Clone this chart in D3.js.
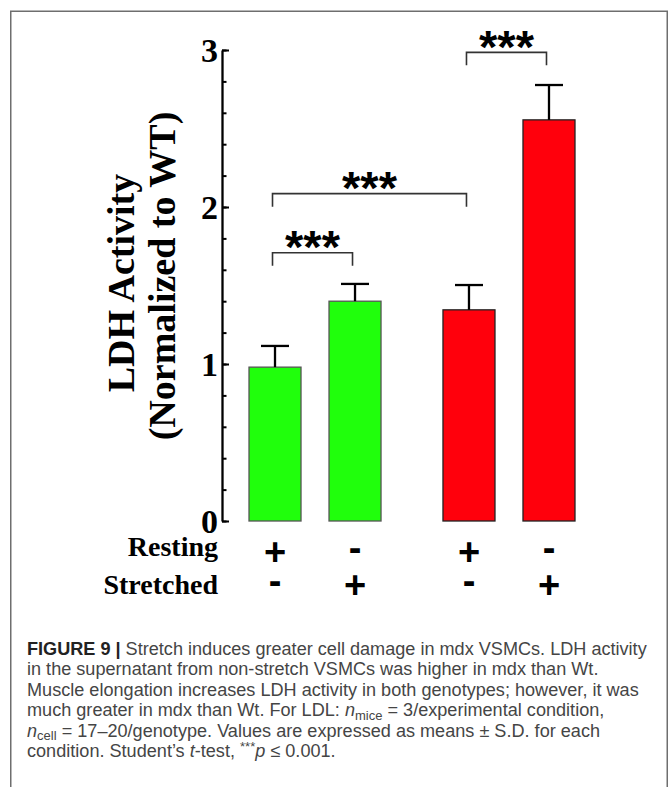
<!DOCTYPE html>
<html><head><meta charset="utf-8">
<script src="https://cdn.jsdelivr.net/npm/d3@7"></script>
<style>body{margin:0;background:#fff}</style>
</head><body>
<svg id="c" width="670" height="787" xmlns="http://www.w3.org/2000/svg"></svg>
<script>
// ---------- data ----------
const genotypes = ["Wt", "mdx"];
const conditions = ["Resting", "Stretched"];
const wtMeans = [0.98, 1.40];
const wtSD = [0.135, 0.11];
const mdxMeans = [1.345, 2.555];
const mdxSD = [0.158, 0.222];
const restingSigns = ["+", "-", "+", "-"];
const stretchedSigns = ["-", "+", "-", "+"];
const yTicks = [0, 1, 2, 3];
const yMinorTicks = d3.range(0, 3.0001, 0.2);
const yTitle = ["LDH Activity", "(Normalized to WT)"];
// significance brackets: from bar index, to bar index, level (data units)
const brackets = [
  {a: 0, b: 1, level: 1.709, label: "***"},
  {a: 0, b: 2, level: 2.085, label: "***"},
  {a: 2, b: 3, level: 2.985, label: "***"}
];
const captionLines = [
  [{t: "FIGURE 9 |", b: 1}, {t: " Stretch induces greater cell damage in mdx VSMCs. LDH activity"}],
  [{t: "in the supernatant from non-stretch VSMCs was higher in mdx than Wt."}],
  [{t: "Muscle elongation increases LDH activity in both genotypes; however, it was"}],
  [{t: "much greater in mdx than Wt. For LDL: "}, {t: "n", i: 1}, {t: "mice", sub: 1}, {t: " = 3/experimental condition,"}],
  [{t: "n", i: 1}, {t: "cell", sub: 1}, {t: " = 17–20/genotype. Values are expressed as means ± S.D. for each"}],
  [{t: "condition. Student’s "}, {t: "t", i: 1}, {t: "-test, "}, {t: "***", sup: 1}, {t: "p", i: 1}, {t: " ≤ 0.001."}]
];

// ---------- layout ----------
const svg = d3.select("#c");
const serif = "'Liberation Serif','Times New Roman',Times,serif";
const sans = "'Liberation Sans',Arial,Helvetica,sans-serif";

svg.append("rect").attr("x", 10.75).attr("y", 11.25).attr("width", 656.5).attr("height", 820)
  .attr("fill", "none").attr("stroke", "#6e6e6e").attr("stroke-width", 1.5);

const y = d3.scaleLinear().domain([0, 3]).range([521, 50]);
const xGroup = d3.scaleBand().domain(genotypes).range([235, 589]).paddingInner(0.175).paddingOuter(0);
const xCond = d3.scaleBand().domain(conditions).range([0, xGroup.bandwidth()]).paddingInner(0.35).paddingOuter(0.175);
const colors = d3.scaleOrdinal().domain(genotypes).range(["#20ff0c", "#ff000c"]);
const strokes = d3.scaleOrdinal().domain(genotypes).range(["#555", "#222"]);

const bars = genotypes.flatMap(g => conditions.map((c, ci) => ({
  g, c,
  mean: g === "Wt" ? wtMeans[ci] : mdxMeans[ci],
  sd: g === "Wt" ? wtSD[ci] : mdxSD[ci]
})));
bars.forEach(d => { d.x = xGroup(d.g) + xCond(d.c); d.cx = d.x + xCond.bandwidth() / 2; });

// bars
svg.append("g").selectAll("rect").data(bars).join("rect")
  .attr("x", d => d.x).attr("y", d => y(d.mean))
  .attr("width", xCond.bandwidth()).attr("height", d => y(0) - y(d.mean))
  .attr("fill", d => colors(d.g)).attr("stroke", d => strokes(d.g)).attr("stroke-width", 1.3);

// error bars
const eb = svg.append("g").attr("stroke", "#000").attr("stroke-width", 2.3);
eb.selectAll("line.v").data(bars).join("line").attr("class", "v")
  .attr("x1", d => d.cx).attr("x2", d => d.cx)
  .attr("y1", d => y(d.mean)).attr("y2", d => y(d.mean + d.sd));
eb.selectAll("line.h").data(bars).join("line").attr("class", "h")
  .attr("x1", d => d.cx - 14).attr("x2", d => d.cx + 14)
  .attr("y1", d => y(d.mean + d.sd)).attr("y2", d => y(d.mean + d.sd));

// y axis
const axG = svg.append("g").attr("transform", "translate(222,0)");
axG.call(d3.axisLeft(y).tickValues(yMinorTicks).tickSizeInner(-4.5).tickSizeOuter(0).tickFormat(""));
axG.select(".domain").remove();
const axM = svg.append("g").attr("transform", "translate(222,0)");
axM.call(d3.axisLeft(y).tickValues(yTicks).tickSizeInner(-7).tickSizeOuter(0).tickPadding(4).tickFormat(d3.format("d")));
svg.selectAll(".tick line").attr("stroke", "#000").attr("stroke-width", 2);
axM.select(".domain").attr("stroke", "#000").attr("stroke-width", 2.3);
axM.selectAll(".tick text").attr("font-family", serif).attr("font-weight", "bold")
  .attr("font-size", 34).attr("fill", "#000").attr("dy", "0.33em");

// y title
[[134, 283], [175, 276]].forEach((p, i) => {
  svg.append("text").attr("transform", `translate(${p[0]},${p[1]}) rotate(-90)`)
    .attr("font-family", serif).attr("font-weight", "bold").attr("font-size", 38)
    .attr("text-anchor", "middle").attr("fill", "#000").text(yTitle[i]);
});

// significance brackets
const bg = svg.append("g");
brackets.forEach(br => {
  const x1 = bars[br.a].cx - 2.5, x2 = bars[br.b].cx - 2.5, yy = y(br.level);
  bg.append("path").attr("d", `M${x1},${yy + 13}V${yy}H${x2}V${yy + 13}`)
    .attr("fill", "none").attr("stroke", "#333").attr("stroke-width", 1.6);
  bg.append("text").attr("x", (x1 + x2) / 2).attr("y", yy - 17).attr("dy", "0.58em")
    .attr("text-anchor", "middle").attr("font-family", sans).attr("font-weight", "bold")
    .attr("font-size", 47).attr("fill", "#000").text(br.label);
});

// condition rows
const rows = [{label: conditions[0], signs: restingSigns, base: 556, mid: 552},
              {label: conditions[1], signs: stretchedSigns, base: 594, mid: 585}];
rows.forEach(r => {
  svg.append("text").attr("x", 218).attr("y", r.base).attr("text-anchor", "end")
    .attr("font-family", serif).attr("font-weight", "bold").attr("font-size", 28).attr("fill", "#000")
    .text(r.label);
  svg.append("g").selectAll("text").data(bars).join("text")
    .attr("x", d => d.cx).attr("y", r.mid)
    .attr("dy", (d, i) => r.signs[i] === "+" ? "0.353em" : "0.245em")
    .attr("text-anchor", "middle").attr("font-family", sans).attr("font-weight", "bold")
    .attr("font-size", 38).attr("fill", "#000").text((d, i) => r.signs[i]);
});

// caption
const capX = 27, capBase = 655, capStep = 20.4, capFs = 18.5, capWidth = 620;
const capG = svg.append("g").attr("font-family", sans).attr("fill", "#454545");
const texts = captionLines.map((segs, li) => {
  const t = capG.append("text").attr("x", 0).attr("y", capBase + li * capStep).attr("font-size", capFs);
  let shift = 0;
  segs.forEach(s => {
    const ts = t.append("tspan").text(s.t);
    let target = 0;
    if (s.sub) { ts.attr("font-size", "0.72em"); target = 3.5; }
    if (s.sup) { ts.attr("font-size", "0.72em"); target = -6; }
    if (target !== shift) { ts.attr("dy", target - shift); shift = target; }
    if (s.b) ts.attr("font-weight", "bold").attr("fill", "#222");
    if (s.i) ts.attr("font-style", "italic");
  });
  return t;
});
const len0 = texts[0].node().getComputedTextLength();
capG.attr("transform", `translate(${capX},0) scale(${capWidth / len0},1)`);
</script>
</body></html>
